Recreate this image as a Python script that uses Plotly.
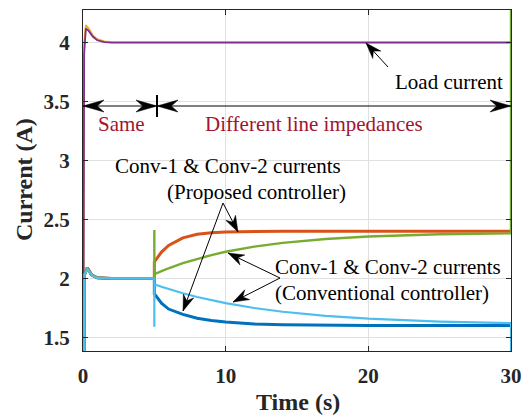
import math
import plotly.graph_objects as go

# ---------------- data ----------------
t_load = [0, 0.08, 0.2, 0.4, 0.7, 1.0, 1.5, 2.0, 3.0, 10, 20, 30, 30]
i_load_purple = [0, 3.90, 4.12, 4.10, 4.05, 4.02, 4.005, 4.0, 4.0, 4.0, 4.0, 4.0, 4.0]
i_load_yellow = [0, 4.00, 4.15, 4.12, 4.06, 4.03, 4.01, 4.005, 4.005, 4.005, 4.005, 4.005, 4.40]

t_conv = [0, 0.1, 0.3, 0.6, 1.0, 1.5, 2, 3, 4, 5, 5, 5, 5.5, 6, 7, 8, 9, 10, 12, 14, 17, 20, 25, 30, 30]
i_conv1_prop = [0, 2.03, 2.09, 2.03, 2.005, 2.0, 2.0, 2.0, 2.0, 2.0, 2.14, 2.14,
                2.223, 2.280, 2.344, 2.374, 2.388, 2.394, 2.399, 2.40, 2.40, 2.40, 2.40, 2.40, 2.40]
i_conv2_prop = [0, 2.03, 2.09, 2.03, 2.005, 2.0, 2.0, 2.0, 2.0, 2.0, 2.41, 2.035,
                2.061, 2.086, 2.129, 2.166, 2.198, 2.226, 2.269, 2.301, 2.334, 2.355, 2.374, 2.382, 4.40]
i_conv1_conv = [0, 2.03, 2.09, 2.03, 2.005, 2.0, 2.0, 2.0, 2.0, 2.0, 1.87, 1.87,
                1.79, 1.74, 1.695, 1.662, 1.642, 1.63, 1.614, 1.607, 1.603, 1.601, 1.60, 1.60, 1.60]
i_conv2_conv = [0, 2.03, 2.08, 2.03, 2.005, 2.0, 2.0, 2.0, 2.0, 2.0, 1.59, 1.95,
                1.929, 1.909, 1.874, 1.842, 1.814, 1.790, 1.749, 1.717, 1.682, 1.658, 1.633, 1.620, 0]

x_ticks = [0, 10, 20, 30]
y_ticks = [1.5, 2, 2.5, 3, 3.5, 4]
x_range = [0, 30]
y_range = [1.384, 4.277]

# ---------------- layout geometry ----------------
W, H = 522, 419
ML, MR, MT, MB = 83, 11, 10, 68
PW, PH = W - ML - MR, H - MT - MB

def px_x(px):
    return x_range[0] + (px - ML) / PW * (x_range[1] - x_range[0])

def px_y(py):
    return y_range[1] - (py - MT) / PH * (y_range[1] - y_range[0])

def pap_x(px):
    return (px - ML) / PW

def pap_y(py):
    return (H - MB - py) / PH

SERIF = "Liberation Serif"
fig = go.Figure()

series = [
    (t_conv, i_conv1_conv, "#0072BD", 3.0),
    (t_conv, i_conv1_prop, "#D95319", 3.0),
    (t_load, i_load_yellow, "#EDB120", 1.8),
    (t_load, i_load_purple, "#7E2F8E", 1.8),
    (t_conv, i_conv2_prop, "#77AC30", 2.4),
    (t_conv, i_conv2_conv, "#4DBEEE", 2.2),
]
for tx, ty, col, lw in series:
    fig.add_trace(go.Scatter(x=tx, y=ty, mode="lines",
                             line=dict(color=col, width=lw), showlegend=False,
                             hoverinfo="skip"))

shapes = []

def add_head(tip, tail, L=16, Wd=11, notch=0.68):
    dx, dy = tip[0] - tail[0], -(tip[1] - tail[1])
    n = math.hypot(dx, dy)
    ux, uy = dx / n, dy / n
    pxv, pyv = -uy, ux
    b1 = (-L * ux + Wd / 2 * pxv, -L * uy + Wd / 2 * pyv)
    nt = (-notch * L * ux, -notch * L * uy)
    b2 = (-L * ux - Wd / 2 * pxv, -L * uy - Wd / 2 * pyv)
    path = "M 0 0 L {:.2f} {:.2f} L {:.2f} {:.2f} L {:.2f} {:.2f} Z".format(b1[0], b1[1], nt[0], nt[1], b2[0], b2[1])
    shapes.append(dict(type="path", xref="x", yref="y", xsizemode="pixel", ysizemode="pixel",
                       xanchor=px_x(tip[0]), yanchor=px_y(tip[1]), path=path,
                       fillcolor="black", line=dict(color="black", width=0.5), layer="above"))

def add_line(p0, p1, width=1.0):
    shapes.append(dict(type="line", xref="x", yref="y",
                       x0=px_x(p0[0]), y0=px_y(p0[1]), x1=px_x(p1[0]), y1=px_y(p1[1]),
                       line=dict(color="black", width=width), layer="above"))

def arrow(tail, tip, L=16, Wd=11):
    add_line(tail, tip)
    add_head(tip, tail, L, Wd)

# single arrows
arrow((388, 67), (366, 43))
arrow((223, 203), (238, 232))
arrow((223, 203), (183, 311))
arrow((280, 278), (228, 253))
arrow((280, 278), (233, 302))

# double arrows
ya = 106
add_line((83, ya), (157, ya))
add_head((83, ya), (157, ya), 21, 12)
add_head((157, ya), (83, ya), 21, 12)
add_line((157, ya), (511, ya))
add_head((157, ya), (511, ya), 21, 12)
add_head((511, ya), (157, ya), 21, 12)
add_line((157, 95), (157, 117), width=2)

annotations = []

def text(s, left, cy, color="black", size=21):
    annotations.append(dict(text=s, xref="paper", yref="paper", x=pap_x(left), y=pap_y(cy),
                            xanchor="left", yanchor="middle", showarrow=False,
                            font=dict(family=SERIF, size=size, color=color)))

text("Load current", 392.7, 82)
text("Same", 96, 124, color="#A2142F")
text("Different line impedances", 203.3, 124, color="#A2142F")
text("Conv-1 &amp; Conv-2 currents", 112.7, 166)
text("(Proposed controller)", 165, 192)
text("Conv-1 &amp; Conv-2 currents", 272.7, 267)
text("(Conventional controller)", 272.7, 293)

annotations.append(dict(text="<b>Time (s)</b>", xref="paper", yref="paper",
                        x=pap_x(297.5), y=pap_y(402), xanchor="center", yanchor="middle",
                        showarrow=False, font=dict(family=SERIF, size=24, color="#262626")))
annotations.append(dict(text="<b>Current (A)</b>", xref="paper", yref="paper",
                        x=pap_x(24), y=pap_y(180), xanchor="center", yanchor="middle",
                        textangle=-90, showarrow=False,
                        font=dict(family=SERIF, size=24, color="#262626")))

axis_common = dict(showgrid=True, gridcolor="#e0e0e0", gridwidth=1, zeroline=False,
                   showline=True, linecolor="#262626", linewidth=1.2, mirror="ticks",
                   ticks="inside", ticklen=5, tickwidth=1.2, tickcolor="#262626",
                   automargin=False,
                   tickfont=dict(family="Liberation Serif, Times New Roman, serif", size=21,
                                 color="#262626", weight="bold"))

fig.update_layout(
    width=W, height=H,
    margin=dict(l=ML, r=MR, t=MT, b=MB, autoexpand=False),
    paper_bgcolor="white", plot_bgcolor="white",
    xaxis=dict(range=x_range, tickvals=x_ticks, ticklabelstandoff=6, **axis_common),
    yaxis=dict(range=y_range, tickvals=y_ticks, ticklabelstandoff=8, **axis_common),
    shapes=shapes, annotations=annotations,
)

fig.write_html("out.html")
